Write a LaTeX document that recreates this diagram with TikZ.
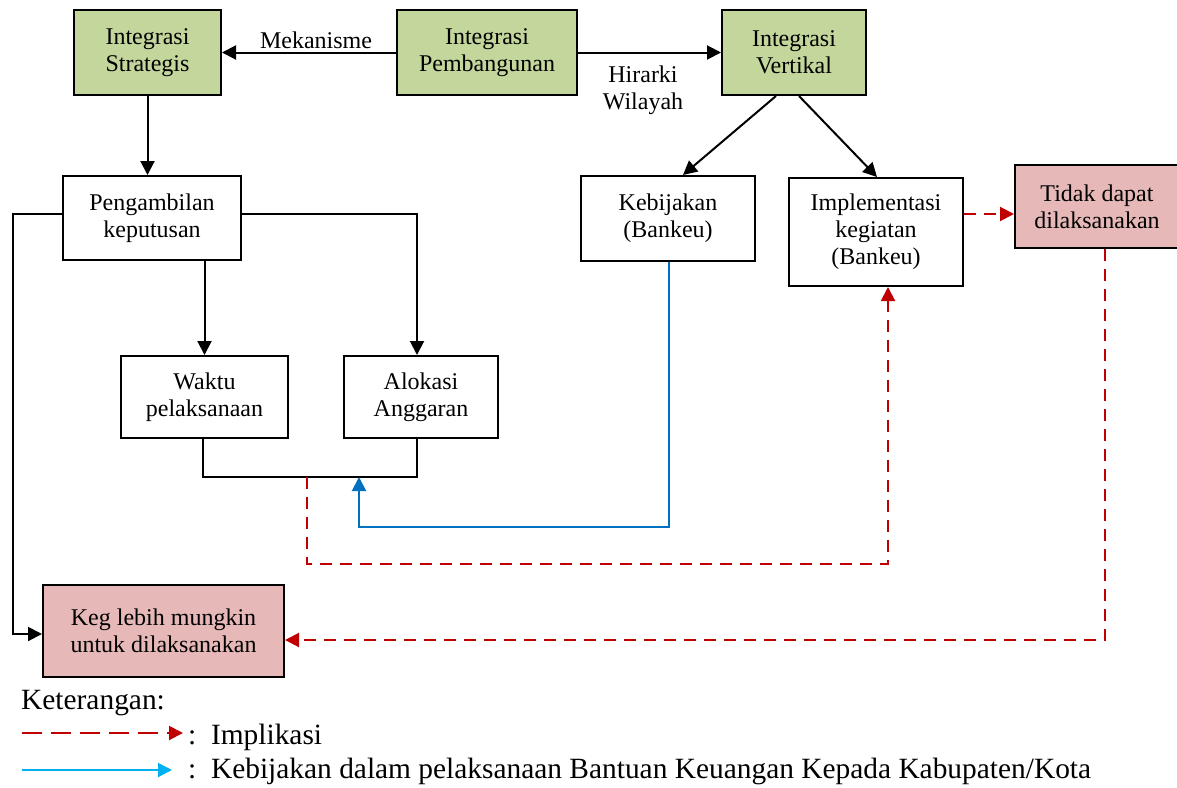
\documentclass[tikz,border=0pt]{standalone}
\usepackage{fontspec}
\setmainfont{Liberation Serif}
\usetikzlibrary{arrows.meta}
\definecolor{boxgreen}{HTML}{C3D69B}
\definecolor{boxred}{HTML}{E6B9B8}
\definecolor{implred}{HTML}{C00000}
\definecolor{polblue}{HTML}{0070C0}
\definecolor{legblue}{HTML}{00B0F0}
\tikzset{
  tip/.style={-{Triangle[length=14pt,width=14pt]}},
  basebox/.style={draw=black, line width=2pt, align=center, inner sep=2pt,
    font=\fontsize{24}{27}\selectfont},
  greenbox/.style={basebox, fill=boxgreen},
  whitebox/.style={basebox, fill=white},
  pinkbox/.style={basebox, fill=boxred},
  conn/.style={draw=black, line width=2pt, tip},
  plainline/.style={draw=black, line width=2pt},
  implarr/.style={draw=implred, line width=2pt, dash pattern=on 12pt off 8pt, tip},
  polarr/.style={draw=polblue, line width=2pt, tip},
  lbl/.style={font=\fontsize{24}{27}\selectfont, align=center, inner sep=1pt},
  legtxt/.style={font=\fontsize{29.4}{32}\selectfont, anchor=west, inner sep=0pt},
}
\begin{document}
\begin{tikzpicture}[x=1pt, y=-1pt]
\useasboundingbox (0,0) rectangle (1177,787);

% top row
\node[greenbox, minimum width=147pt, minimum height=85pt] (strat) at (147.5,52.5) {Integrasi\\Strategis};
\node[greenbox, minimum width=180pt, minimum height=85pt] (pemb) at (487,52.5) {Integrasi\\Pembangunan};
\node[greenbox, minimum width=144pt, minimum height=85pt] (vert) at (794,52.5) {Integrasi\\Vertikal};

% second row
\node[whitebox, minimum width=178pt, minimum height=84pt] (peng) at (152,218) {Pengambilan\\keputusan};
\node[whitebox, minimum width=174pt, minimum height=85pt] (kebij) at (668,218.5) {Kebijakan\\(Bankeu)};
\node[whitebox, minimum width=174pt, minimum height=108pt] (impl) at (876,232) {Implementasi\\kegiatan\\(Bankeu)};
\node[pinkbox, minimum width=164pt, minimum height=83pt] (tidak) at (1097,206.5) {Tidak dapat\\dilaksanakan};

% third row
\node[whitebox, minimum width=167pt, minimum height=82pt] (waktu) at (204.5,397) {Waktu\\pelaksanaan};
\node[whitebox, minimum width=154pt, minimum height=82pt] (alok) at (421,397) {Alokasi\\Anggaran};

% outcome
\node[pinkbox, minimum width=241pt, minimum height=92pt] (keg) at (163.5,631) {Keg lebih mungkin\\untuk dilaksanakan};

% top connectors
\draw[conn] (pemb.west) -- (strat.east);
\node[lbl] (mek) at (316,40) {Mekanisme};
\draw[conn] (pemb.east) -- (vert.west);
\node[lbl] (hir) at (643,90) {Hirarki\\Wilayah};
\draw[conn] (strat.south) -- (strat.south |- peng.north);
\draw[conn] ([xshift=-18pt]vert.south) -- ([xshift=15pt]kebij.north);
\draw[conn] ([xshift=5pt]vert.south) -- ([xshift=1pt]impl.north);

% decision branches
\draw[conn] (waktu.north |- peng.south) -- (waktu.north);
\draw[conn] ([yshift=4pt]peng.east) -| ([xshift=-4pt]alok.north);
\coordinate (leftrail) at (13,214);
\draw[conn] ([yshift=4pt]peng.west) -- (leftrail) |- ([yshift=-3pt]keg.west);

% joining bracket under the two boxes
\coordinate (jl) at (203,477);
\coordinate (jr) at (417,477);
\draw[plainline] (waktu.south -| jl) -- (jl) -- (jr) -- (alok.south -| jr);

% policy feedback (blue)
\coordinate (blueturn) at (669,527);
\coordinate (bluein) at (359,477);
\draw[polarr] (kebij.south -| blueturn) -- (blueturn) -| (bluein);

% implications (red dashed)
\coordinate (redstart) at (307,477);
\coordinate (redturn) at (307,564);
\draw[implarr] (redstart) -- (redturn) -| ([xshift=12pt]impl.south);
\draw[implarr] ([yshift=18pt]impl.east) -- ([yshift=-7.5pt]tidak.west);
\draw[implarr] ([xshift=8pt]tidak.south) |- ([yshift=-9pt]keg.east);

% legend
\node[legtxt] (ket) at (21,703) {Keterangan:};
\coordinate (l1a) at (22,733);
\coordinate (l1b) at (183,733);
\draw[draw=implred, line width=2pt, dash pattern=on 20pt off 9pt, tip] (l1a) -- (l1b);
\node[legtxt] (leg1) at (188,737) {:\hspace{0.5em}Implikasi};
\coordinate (l2a) at (22,770);
\coordinate (l2b) at (172,770);
\draw[draw=legblue, line width=2pt, tip] (l2a) -- (l2b);
\node[legtxt] (leg2) at (188,771) {:\hspace{0.5em}Kebijakan dalam pelaksanaan Bantuan Keuangan Kepada Kabupaten/Kota};
\end{tikzpicture}
\end{document}
